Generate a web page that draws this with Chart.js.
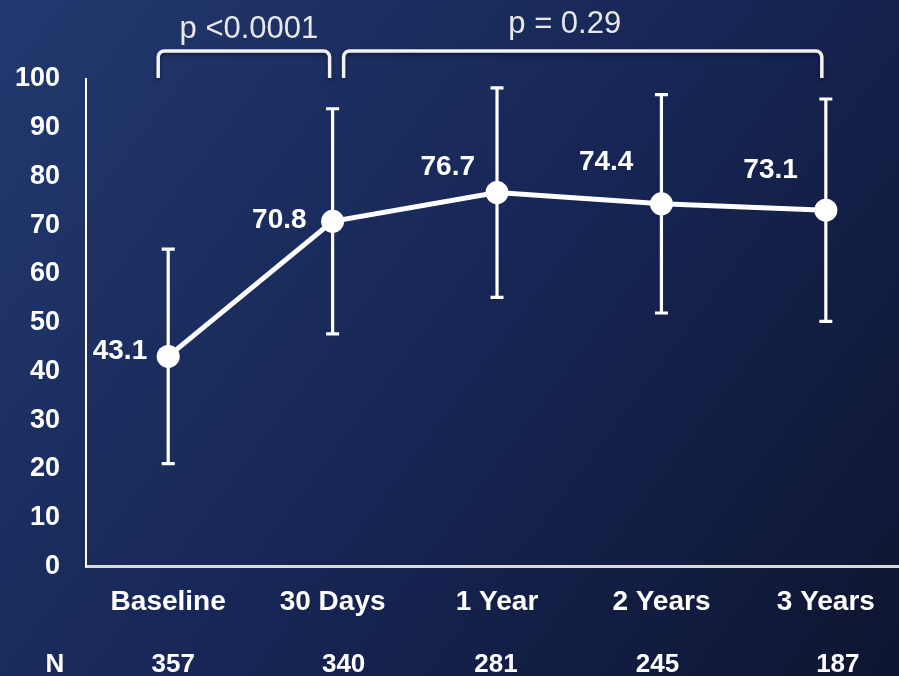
<!DOCTYPE html>
<html>
<head>
<meta charset="utf-8">
<script src="https://cdn.jsdelivr.net/npm/chart.js@4.4.1/dist/chart.umd.min.js"></script>
<style>
  html, body { margin: 0; padding: 0; background: #131d44; }
  #wrap { width: 899px; height: 676px; }
</style>
</head>
<body>
<div id="wrap"><canvas id="chart" width="899" height="676"></canvas></div>
<script>
const categories = ['Baseline', '30 Days', '1 Year', '2 Years', '3 Years'];
const scores = [43.1, 70.8, 76.7, 74.4, 73.1];
const sd = [22.0, 23.1, 21.5, 22.4, 22.8];
const nCounts = [357, 340, 281, 245, 187];
const yTicks = [0, 10, 20, 30, 40, 50, 60, 70, 80, 90, 100];
const pTexts = ['p <0.0001', 'p = 0.29'];

const FONT = "'Liberation Sans', Arial, sans-serif";

// gradient background
const bgPlugin = {
  id: 'bg',
  beforeDraw(chart) {
    const ctx = chart.ctx;
    const g = ctx.createLinearGradient(0, 0, chart.width, chart.height);
    g.addColorStop(0, '#22396f');
    g.addColorStop(0.5, '#172656');
    g.addColorStop(1, '#0e1530');
    ctx.save();
    ctx.fillStyle = g;
    ctx.fillRect(0, 0, chart.width, chart.height);
    ctx.restore();
  }
};

// error bars (mean +/- sd)
const errorBars = {
  id: 'errorBars',
  beforeDatasetsDraw(chart) {
    const ctx = chart.ctx;
    const x = chart.scales.x, y = chart.scales.y;
    ctx.save();
    ctx.strokeStyle = '#ffffff';
    ctx.lineWidth = 3.2;
    scores.forEach((v, i) => {
      const px = x.getPixelForValue(i);
      const top = y.getPixelForValue(v + sd[i]);
      const bot = y.getPixelForValue(v - sd[i]);
      ctx.beginPath();
      ctx.moveTo(px, top); ctx.lineTo(px, bot);
      ctx.moveTo(px - 6.5, top); ctx.lineTo(px + 6.5, top);
      ctx.moveTo(px - 6.5, bot); ctx.lineTo(px + 6.5, bot);
      ctx.stroke();
    });
    ctx.restore();
  }
};

// value labels next to the points
const valueLabels = {
  id: 'valueLabels',
  afterDatasetsDraw(chart, args, opts) {
    const ctx = chart.ctx;
    const meta = chart.getDatasetMeta(0);
    ctx.save();
    ctx.font = 'bold 28px ' + FONT;
    ctx.fillStyle = '#ffffff';
    ctx.textAlign = 'right';
    ctx.textBaseline = 'middle';
    meta.data.forEach((pt, i) => {
      const o = opts.offsets[i];
      ctx.fillText(scores[i].toFixed(1), pt.x + o[0], pt.y + o[1]);
    });
    ctx.restore();
  }
};

// p-value brackets + N row
const extras = {
  id: 'extras',
  afterDraw(chart, args, opts) {
    const ctx = chart.ctx;
    const x = chart.scales.x;
    const top = chart.chartArea.top;
    const bracket = (x1, x2) => {
      const yT = top - 28, yB = top - 1, r = 6;
      ctx.beginPath();
      ctx.moveTo(x1, yB);
      ctx.lineTo(x1, yT + r);
      ctx.arcTo(x1, yT, x1 + r, yT, r);
      ctx.lineTo(x2 - r, yT);
      ctx.arcTo(x2, yT, x2, yT + r, r);
      ctx.lineTo(x2, yB);
      ctx.stroke();
    };
    ctx.save();
    ctx.strokeStyle = '#f2f2f2';
    ctx.lineWidth = 3.5;
    ctx.shadowColor = 'rgba(0,0,0,0.45)';
    ctx.shadowBlur = 4;
    ctx.shadowOffsetY = 2;
    const b1 = [x.getPixelForValue(0) - 10, x.getPixelForValue(1) - 3];
    const b2 = [x.getPixelForValue(1) + 11, x.getPixelForValue(4) - 4];
    bracket(b1[0], b1[1]);
    bracket(b2[0], b2[1]);
    ctx.restore();

    ctx.save();
    ctx.fillStyle = '#e8e8e8';
    ctx.font = '31px ' + FONT;
    ctx.textAlign = 'center';
    ctx.textBaseline = 'middle';
    ctx.fillText(pTexts[0], (b1[0] + b1[1]) / 2 + 5, top - 50);
    ctx.fillText(pTexts[1], (b2[0] + b2[1]) / 2 - 18, top - 55);

    ctx.fillStyle = '#ffffff';
    ctx.font = 'bold 26px ' + FONT;
    ctx.fillText('N', 55, 665);
    nCounts.forEach((n, i) => {
      ctx.fillText(String(n), x.getPixelForValue(i) + opts.nShift[i], 665);
    });
    ctx.restore();
  }
};

new Chart(document.getElementById('chart'), {
  type: 'line',
  data: {
    datasets: [{
      data: scores.map((v, i) => ({ x: i, y: v })),
      borderColor: '#ffffff',
      borderWidth: 5,
      pointRadius: 11.5,
      pointBackgroundColor: '#ffffff',
      pointBorderWidth: 0,
      tension: 0,
      clip: false
    }]
  },
  options: {
    responsive: false,
    animation: false,
    events: [],
    layout: { autoPadding: false, padding: { top: 79, right: 0, left: 0, bottom: 0 } },
    plugins: {
      legend: { display: false },
      tooltip: { enabled: false },
      valueLabels: {
        offsets: [[-21, -5], [-26, -1], [-22, -25], [-28, -42], [-28, -40]]
      },
      extras: {
        nShift: [5, 11, -1, -4, 12]
      }
    },
    scales: {
      x: {
        type: 'linear',
        min: -0.5,
        max: 4.445,
        afterBuildTicks: s => { s.ticks = categories.map((c, i) => ({ value: i })); },
        afterFit: s => { s.height = 676 - 566.5; s.paddingLeft = 0; s.paddingRight = 0; },
        grid: { display: false, drawTicks: false },
        border: { display: true, color: '#d9d9d9', width: 3 },
        ticks: {
          color: '#ffffff',
          font: { family: FONT, size: 28, weight: 'bold' },
          padding: 19,
          maxRotation: 0,
          autoSkip: false,
          callback: v => categories[v]
        }
      },
      y: {
        min: 0,
        max: 100,
        afterBuildTicks: s => { s.ticks = yTicks.map(v => ({ value: v })); },
        afterFit: s => { s.width = 86; },
        grid: { display: false, drawTicks: false },
        border: { display: true, color: '#ffffff', width: 2 },
        ticks: {
          color: '#ffffff',
          font: { family: FONT, size: 27, weight: 'bold' },
          padding: 26
        }
      }
    }
  },
  plugins: [bgPlugin, errorBars, valueLabels, extras]
});
</script>
</body>
</html>
